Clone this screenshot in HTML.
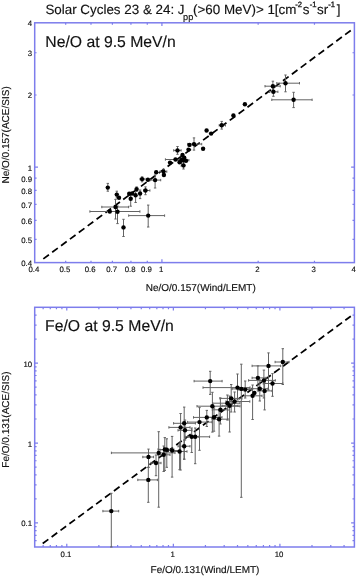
<!DOCTYPE html>
<html><head><meta charset="utf-8"><style>
html,body{margin:0;padding:0;background:#fff;width:357px;height:576px;overflow:hidden}
svg{display:block;will-change:transform}
text{font-family:"Liberation Sans",sans-serif;fill:#111;stroke:#111;stroke-width:0.15px;text-rendering:geometricPrecision}
</style></head><body>
<svg width="357" height="576" viewBox="0 0 357 576">
<path d="M161.92 262.60v-3.3M161.92 22.80v3.3M34.70 167.17h3.3M354.40 167.17h-3.3M65.68 262.60v-1.9M65.68 22.80v1.9M34.70 239.36h1.9M354.40 239.36h-1.9M91.00 262.60v-1.9M91.00 22.80v1.9M34.70 220.37h1.9M354.40 220.37h-1.9M112.40 262.60v-1.9M112.40 22.80v1.9M34.70 204.32h1.9M354.40 204.32h-1.9M130.94 262.60v-1.9M130.94 22.80v1.9M34.70 190.41h1.9M354.40 190.41h-1.9M147.29 262.60v-1.9M147.29 22.80v1.9M34.70 178.15h1.9M354.40 178.15h-1.9M258.16 262.60v-1.9M258.16 22.80v1.9M34.70 94.99h1.9M354.40 94.99h-1.9M314.46 262.60v-1.9M314.46 22.80v1.9M34.70 52.76h1.9M354.40 52.76h-1.9" stroke="#7d7dec" stroke-width="1.2" fill="none"/>
<rect x="34.7" y="22.8" width="319.70" height="239.80" stroke="#7d7dec" stroke-width="1.5" fill="none"/>
<text x="32.10" y="266.10" text-anchor="end" font-size="7.8">0.4</text>
<text x="33.90" y="272.20" text-anchor="middle" font-size="7.8">0.4</text>
<text x="32.10" y="242.86" text-anchor="end" font-size="7.8">0.5</text>
<text x="64.88" y="272.20" text-anchor="middle" font-size="7.8">0.5</text>
<text x="32.10" y="223.87" text-anchor="end" font-size="7.8">0.6</text>
<text x="90.20" y="272.20" text-anchor="middle" font-size="7.8">0.6</text>
<text x="32.10" y="207.82" text-anchor="end" font-size="7.8">0.7</text>
<text x="111.60" y="272.20" text-anchor="middle" font-size="7.8">0.7</text>
<text x="32.10" y="193.91" text-anchor="end" font-size="7.8">0.8</text>
<text x="130.14" y="272.20" text-anchor="middle" font-size="7.8">0.8</text>
<text x="32.10" y="181.65" text-anchor="end" font-size="7.8">0.9</text>
<text x="146.49" y="272.20" text-anchor="middle" font-size="7.8">0.9</text>
<text x="32.10" y="170.67" text-anchor="end" font-size="7.8">1</text>
<text x="161.12" y="272.20" text-anchor="middle" font-size="7.8">1</text>
<text x="32.10" y="98.49" text-anchor="end" font-size="7.8">2</text>
<text x="257.36" y="272.20" text-anchor="middle" font-size="7.8">2</text>
<text x="32.10" y="56.26" text-anchor="end" font-size="7.8">3</text>
<text x="313.66" y="272.20" text-anchor="middle" font-size="7.8">3</text>
<text x="32.10" y="26.30" text-anchor="end" font-size="7.8">4</text>
<text x="353.60" y="272.20" text-anchor="middle" font-size="7.8">4</text>
<path d="M66.78 547.00v-3.3M66.78 307.30v3.3M34.70 522.95h3.3M354.40 522.95h-3.3M173.35 547.00v-3.3M173.35 307.30v3.3M34.70 443.05h3.3M354.40 443.05h-3.3M279.91 547.00v-3.3M279.91 307.30v3.3M34.70 363.15h3.3M354.40 363.15h-3.3M43.14 547.00v-1.9M43.14 307.30v1.9M34.70 540.67h1.9M354.40 540.67h-1.9M50.27 547.00v-1.9M50.27 307.30v1.9M34.70 535.32h1.9M354.40 535.32h-1.9M56.45 547.00v-1.9M56.45 307.30v1.9M34.70 530.69h1.9M354.40 530.69h-1.9M61.90 547.00v-1.9M61.90 307.30v1.9M34.70 526.60h1.9M354.40 526.60h-1.9M98.86 547.00v-1.9M98.86 307.30v1.9M34.70 498.90h1.9M354.40 498.90h-1.9M117.62 547.00v-1.9M117.62 307.30v1.9M34.70 484.83h1.9M354.40 484.83h-1.9M130.94 547.00v-1.9M130.94 307.30v1.9M34.70 474.84h1.9M354.40 474.84h-1.9M141.27 547.00v-1.9M141.27 307.30v1.9M34.70 467.10h1.9M354.40 467.10h-1.9M149.70 547.00v-1.9M149.70 307.30v1.9M34.70 460.77h1.9M354.40 460.77h-1.9M156.84 547.00v-1.9M156.84 307.30v1.9M34.70 455.42h1.9M354.40 455.42h-1.9M163.02 547.00v-1.9M163.02 307.30v1.9M34.70 450.79h1.9M354.40 450.79h-1.9M168.47 547.00v-1.9M168.47 307.30v1.9M34.70 446.70h1.9M354.40 446.70h-1.9M205.43 547.00v-1.9M205.43 307.30v1.9M34.70 419.00h1.9M354.40 419.00h-1.9M224.19 547.00v-1.9M224.19 307.30v1.9M34.70 404.93h1.9M354.40 404.93h-1.9M237.51 547.00v-1.9M237.51 307.30v1.9M34.70 394.94h1.9M354.40 394.94h-1.9M247.83 547.00v-1.9M247.83 307.30v1.9M34.70 387.20h1.9M354.40 387.20h-1.9M256.27 547.00v-1.9M256.27 307.30v1.9M34.70 380.87h1.9M354.40 380.87h-1.9M263.41 547.00v-1.9M263.41 307.30v1.9M34.70 375.52h1.9M354.40 375.52h-1.9M269.59 547.00v-1.9M269.59 307.30v1.9M34.70 370.89h1.9M354.40 370.89h-1.9M275.04 547.00v-1.9M275.04 307.30v1.9M34.70 366.80h1.9M354.40 366.80h-1.9M311.99 547.00v-1.9M311.99 307.30v1.9M34.70 339.10h1.9M354.40 339.10h-1.9M330.76 547.00v-1.9M330.76 307.30v1.9M34.70 325.03h1.9M354.40 325.03h-1.9M344.07 547.00v-1.9M344.07 307.30v1.9M34.70 315.04h1.9M354.40 315.04h-1.9" stroke="#7d7dec" stroke-width="1.2" fill="none"/>
<rect x="34.7" y="307.3" width="319.70" height="239.70" stroke="#7d7dec" stroke-width="1.5" fill="none"/>
<text x="32.10" y="526.45" text-anchor="end" font-size="7.8">0.1</text>
<text x="65.98" y="556.60" text-anchor="middle" font-size="7.8">0.1</text>
<text x="32.10" y="446.55" text-anchor="end" font-size="7.8">1</text>
<text x="172.55" y="556.60" text-anchor="middle" font-size="7.8">1</text>
<text x="32.10" y="366.65" text-anchor="end" font-size="7.8">10</text>
<text x="279.11" y="556.60" text-anchor="middle" font-size="7.8">10</text>
<path d="M43.3 258.9L350.8 30.4" stroke="#000" stroke-width="1.75" stroke-dasharray="7 4.06" fill="none"/>
<path d="M42.7 543.5L350.8 316.2" stroke="#000" stroke-width="1.75" stroke-dasharray="7 4.06" fill="none"/>
<text y="14" font-size="13.4"><tspan x="45.4">Solar Cycles 23 &amp; 24: J</tspan><tspan x="183.1" y="19.9" font-size="9.2">pp</tspan><tspan x="193.0" y="14">(&gt;60 MeV)&gt; 1[cm</tspan><tspan x="295.3" y="7.4" font-size="7.6" stroke="#222" stroke-width="0.35">-2</tspan><tspan x="302.7" y="14">s</tspan><tspan x="309.7" y="7.4" font-size="7.6" stroke="#222" stroke-width="0.35">-1</tspan><tspan x="317.0" y="14">sr</tspan><tspan x="328.2" y="7.4" font-size="7.6" stroke="#222" stroke-width="0.35">-1</tspan><tspan x="336.7" y="14">]</tspan></text>
<text x="45.3" y="46.6" font-size="15.75" stroke="#111" stroke-width="0.2">Ne/O at 9.5 MeV/n</text>
<text x="45.1" y="331.4" font-size="15.75" stroke="#111" stroke-width="0.2">Fe/O at 9.5 MeV/n</text>
<text x="200.7" y="291.4" text-anchor="middle" font-size="10">Ne/O/0.157(Wind/LEMT)</text>
<text x="205" y="572.6" text-anchor="middle" font-size="10">Fe/O/0.131(Wind/LEMT)</text>
<text transform="translate(9,134.9) rotate(-90)" text-anchor="middle" font-size="10">Ne/O/0.157(ACE/SIS)</text>
<text transform="translate(9.3,419.6) rotate(-90)" text-anchor="middle" font-size="10">Fe/O/0.131(ACE/SIS)</text>
<path d="M276.8 83.2H299.5M276.8 82.0v2.4M299.5 82.0v2.4M285.5 75.0V91.8M284.3 75.0h2.4M284.3 91.8h2.4M265.0 86.2H280.2M265.0 85.0v2.4M280.2 85.0v2.4M272.9 81.2V90.0M271.7 81.2h2.4M271.7 90.0h2.4M269.5 91.8H277.9M269.5 90.6v2.4M277.9 90.6v2.4M273.4 88.0V96.3M272.2 88.0h2.4M272.2 96.3h2.4M271.8 99.8H312.1M271.8 98.6v2.4M312.1 98.6v2.4M293.6 92.3V107.6M292.40000000000003 92.3h2.4M292.40000000000003 107.6h2.4M219.2 125.3H225.5M219.2 124.1v2.4M225.5 124.1v2.4M221.7 121.4V129.1M220.5 121.4h2.4M220.5 129.1h2.4M187.7 144.1H201.7M187.7 142.9v2.4M201.7 142.9v2.4M194.0 137.9V150.1M192.8 137.9h2.4M192.8 150.1h2.4M173.7 150.4H181.1M173.7 149.20000000000002v2.4M181.1 149.20000000000002v2.4M177.5 146.5V154.3M176.3 146.5h2.4M176.3 154.3h2.4M165.4 159.5H180.0M165.4 158.3v2.4M180.0 158.3v2.4M178.0 160.2H188.9M178.0 159.0v2.4M188.9 159.0v2.4M181.6 156.0V166.0M180.4 156.0h2.4M180.4 166.0h2.4M183.5 162.0V169.0M182.3 162.0h2.4M182.3 169.0h2.4M160.1 171.6H166.8M160.1 170.4v2.4M166.8 170.4v2.4M163.5 169.2V174.0M162.3 169.2h2.4M162.3 174.0h2.4M150.0 180.1H160.7M150.0 178.9v2.4M160.7 178.9v2.4M155.1 175.0V188.0M153.9 175.0h2.4M153.9 188.0h2.4M140.0 179.1H145.0M140.0 177.9v2.4M145.0 177.9v2.4M142.1 176.8V181.8M140.9 176.8h2.4M140.9 181.8h2.4M143.5 190.5H149.9M143.5 189.3v2.4M149.9 189.3v2.4M145.5 186.9V194.7M144.3 186.9h2.4M144.3 194.7h2.4M136.6 186.9V191.5M135.4 186.9h2.4M135.4 191.5h2.4M140.1 190.0V198.6M138.9 190.0h2.4M138.9 198.6h2.4M107.8 183.4V191.2M106.6 183.4h2.4M106.6 191.2h2.4M116.8 191.2V198.0M115.6 191.2h2.4M115.6 198.0h2.4M101.8 207.0H128.6M101.8 205.8v2.4M128.6 205.8v2.4M115.5 199.4V219.0M114.3 199.4h2.4M114.3 219.0h2.4M89.9 211.5H139.9M89.9 210.3v2.4M139.9 210.3v2.4M117.5 206.0V223.6M116.3 206.0h2.4M116.3 223.6h2.4M130.7 194.0V206.2M129.5 194.0h2.4M129.5 206.2h2.4M135.6 190.0V202.5M134.4 190.0h2.4M134.4 202.5h2.4M123.5 219.3V236.5M122.3 219.3h2.4M122.3 236.5h2.4M128.7 215.6H164.6M128.7 214.4v2.4M164.6 214.4v2.4M148.2 205.1V227.0M147.0 205.1h2.4M147.0 227.0h2.4" stroke="#636363" stroke-width="1" fill="none"/>
<g fill="#000"><circle cx="285.5" cy="83.2" r="2.2"/><circle cx="272.9" cy="86.2" r="2.2"/><circle cx="273.4" cy="91.8" r="2.2"/><circle cx="293.6" cy="99.8" r="2.2"/><circle cx="244.9" cy="104.2" r="2.2"/><circle cx="233.4" cy="115.5" r="2.2"/><circle cx="221.7" cy="125.3" r="2.2"/><circle cx="206.6" cy="130.5" r="2.2"/><circle cx="211.1" cy="133.6" r="2.2"/><circle cx="194.0" cy="144.1" r="2.2"/><circle cx="189.5" cy="144.9" r="2.2"/><circle cx="203.1" cy="148.7" r="2.2"/><circle cx="188.5" cy="149.6" r="2.2"/><circle cx="177.5" cy="150.4" r="2.2"/><circle cx="182.5" cy="155.0" r="2.2"/><circle cx="175.5" cy="159.5" r="2.2"/><circle cx="183.3" cy="160.2" r="2.2"/><circle cx="179.6" cy="162.2" r="2.2"/><circle cx="184.2" cy="157.6" r="2.2"/><circle cx="181.6" cy="160.0" r="2.2"/><circle cx="186.0" cy="160.8" r="2.2"/><circle cx="170.0" cy="162.6" r="2.2"/><circle cx="183.5" cy="165.4" r="2.2"/><circle cx="163.5" cy="171.6" r="2.2"/><circle cx="156.2" cy="172.3" r="2.2"/><circle cx="163.9" cy="175.0" r="2.2"/><circle cx="155.1" cy="180.1" r="2.2"/><circle cx="147.9" cy="179.8" r="2.2"/><circle cx="142.1" cy="179.1" r="2.2"/><circle cx="145.5" cy="190.5" r="2.2"/><circle cx="136.6" cy="189.1" r="2.2"/><circle cx="140.1" cy="193.5" r="2.2"/><circle cx="107.8" cy="187.6" r="2.2"/><circle cx="116.8" cy="194.6" r="2.2"/><circle cx="119.0" cy="197.7" r="2.2"/><circle cx="115.5" cy="207.0" r="2.2"/><circle cx="109.8" cy="211.5" r="2.2"/><circle cx="117.5" cy="211.7" r="2.2"/><circle cx="130.7" cy="198.7" r="2.2"/><circle cx="129.2" cy="193.7" r="2.2"/><circle cx="132.1" cy="193.5" r="2.2"/><circle cx="135.6" cy="195.3" r="2.2"/><circle cx="123.5" cy="227.4" r="2.2"/><circle cx="148.2" cy="215.6" r="2.2"/></g>
<path d="M275.1 362.0H289.1M275.1 360.8v2.4M289.1 360.8v2.4M282.8 348.7V384.5M281.6 348.7h2.4M281.6 384.5h2.4M252.1 365.9H280.7M252.1 364.7v2.4M280.7 364.7v2.4M268.5 352.9V390.0M267.3 352.9h2.4M267.3 390.0h2.4M252.1 377.9H266.0M252.1 376.7v2.4M266.0 376.7v2.4M257.9 365.9V390.0M256.7 365.9h2.4M256.7 390.0h2.4M248.6 380.4H275.3M248.6 379.2v2.4M275.3 379.2v2.4M263.9 370.1V398.0M262.7 370.1h2.4M262.7 398.0h2.4M263.2 383.5H282.8M263.2 382.3v2.4M282.8 382.3v2.4M272.5 373.6V396.3M271.3 373.6h2.4M271.3 396.3h2.4M252.0 388.7H268.0M252.0 387.5v2.4M268.0 387.5v2.4M259.8 380.0V401.0M258.6 380.0h2.4M258.6 401.0h2.4M258.0 390.9H272.0M258.0 389.7v2.4M272.0 389.7v2.4M264.6 382.0V409.9M263.40000000000003 382.0h2.4M263.40000000000003 409.9h2.4M245.0 395.8H262.0M245.0 394.6v2.4M262.0 394.6v2.4M252.6 385.0V419.5M251.4 385.0h2.4M251.4 419.5h2.4M194.1 381.1H222.1M194.1 379.90000000000003v2.4M222.1 379.90000000000003v2.4M210.2 371.3V394.4M209.0 371.3h2.4M209.0 394.4h2.4M203.0 387.6H250.0M203.0 386.40000000000003v2.4M250.0 386.40000000000003v2.4M237.5 374.0V400.0M236.3 374.0h2.4M236.3 400.0h2.4M232.0 388.9H250.0M232.0 387.7v2.4M250.0 387.7v2.4M241.3 364.2V497.3M240.10000000000002 364.2h2.4M240.10000000000002 497.3h2.4M238.0 389.6H252.0M238.0 388.40000000000003v2.4M252.0 388.40000000000003v2.4M245.2 381.0V398.0M244.0 381.0h2.4M244.0 398.0h2.4M220.0 398.4H242.0M220.0 397.2v2.4M242.0 397.2v2.4M231.2 384.5V412.0M230.0 384.5h2.4M230.0 412.0h2.4M226.0 401.5H249.8M226.0 400.3v2.4M249.8 400.3v2.4M234.6 392.0V412.0M233.4 392.0h2.4M233.4 412.0h2.4M212.7 403.2H240.0M212.7 402.0v2.4M240.0 402.0v2.4M227.4 395.0V420.0M226.20000000000002 395.0h2.4M226.20000000000002 420.0h2.4M222.0 405.8H238.0M222.0 404.6v2.4M238.0 404.6v2.4M229.6 396.0V432.0M228.4 396.0h2.4M228.4 432.0h2.4M197.0 406.2H240.0M197.0 405.0v2.4M240.0 405.0v2.4M212.4 392.3V432.1M211.20000000000002 392.3h2.4M211.20000000000002 432.1h2.4M212.3 409.8H228.0M212.3 408.6v2.4M228.0 408.6v2.4M220.4 398.0V424.0M219.20000000000002 398.0h2.4M219.20000000000002 424.0h2.4M193.5 417.4H220.0M193.5 416.2v2.4M220.0 416.2v2.4M206.8 410.4V426.5M205.60000000000002 410.4h2.4M205.60000000000002 426.5h2.4M206.0 417.3H222.0M206.0 416.1v2.4M222.0 416.1v2.4M214.0 408.0V431.2M212.8 408.0h2.4M212.8 431.2h2.4M212.0 419.2H228.0M212.0 418.0v2.4M228.0 418.0v2.4M219.1 410.0V436.1M217.9 410.0h2.4M217.9 436.1h2.4M187.6 422.1H212.0M187.6 420.90000000000003v2.4M212.0 420.90000000000003v2.4M199.5 407.6V450.3M198.3 407.6h2.4M198.3 450.3h2.4M173.6 423.3H195.4M173.6 422.1v2.4M195.4 422.1v2.4M184.2 407.1V459.2M183.0 407.1h2.4M183.0 459.2h2.4M168.9 427.4H190.0M168.9 426.2v2.4M190.0 426.2v2.4M180.6 413.5V470.0M179.4 413.5h2.4M179.4 470.0h2.4M178.0 430.3H192.0M178.0 429.1v2.4M192.0 429.1v2.4M185.0 420.0V440.0M183.8 420.0h2.4M183.8 440.0h2.4M185.0 436.8H199.0M185.0 435.6v2.4M199.0 435.6v2.4M191.7 428.0V452.5M190.5 428.0h2.4M190.5 452.5h2.4M188.0 436.8H209.6M188.0 435.6v2.4M209.6 435.6v2.4M195.2 428.0V463.7M194.0 428.0h2.4M194.0 463.7h2.4M178.0 446.2H190.0M178.0 445.0v2.4M190.0 445.0v2.4M184.2 440.0V459.2M183.0 440.0h2.4M183.0 459.2h2.4M158.0 449.5H172.0M158.0 448.3v2.4M172.0 448.3v2.4M164.8 437.6V470.4M163.60000000000002 437.6h2.4M163.60000000000002 470.4h2.4M160.0 449.8H174.0M160.0 448.6v2.4M174.0 448.6v2.4M166.8 438.8V467.3M165.60000000000002 438.8h2.4M165.60000000000002 467.3h2.4M165.0 450.5H180.0M165.0 449.3v2.4M180.0 449.3v2.4M172.1 436.4V477.1M170.9 436.4h2.4M170.9 477.1h2.4M172.0 451.5H187.0M172.0 450.3v2.4M187.0 450.3v2.4M179.6 443.0V469.7M178.4 443.0h2.4M178.4 469.7h2.4M111.4 452.9H175.0M111.4 451.7v2.4M175.0 451.7v2.4M158.7 431.7V507.2M157.5 431.7h2.4M157.5 507.2h2.4M158.0 454.8H170.0M158.0 453.6v2.4M170.0 453.6v2.4M163.7 446.0V471.5M162.5 446.0h2.4M162.5 471.5h2.4M151.0 463.0H161.0M151.0 461.8v2.4M161.0 461.8v2.4M156.0 455.0V475.7M154.8 455.0h2.4M154.8 475.7h2.4M142.8 457.0H153.6M142.8 455.8v2.4M153.6 455.8v2.4M148.5 449.1V467.3M147.3 449.1h2.4M147.3 467.3h2.4M137.8 479.9H157.4M137.8 478.7v2.4M157.4 478.7v2.4M148.3 467.3V502.3M147.10000000000002 467.3h2.4M147.10000000000002 502.3h2.4M102.9 511.1H118.7M102.9 509.90000000000003v2.4M118.7 509.90000000000003v2.4M111.3 493.3V547.0M110.1 493.3h2.4M110.1 547.0h2.4" stroke="#636363" stroke-width="1" fill="none"/>
<g fill="#000"><circle cx="282.8" cy="362.0" r="2.2"/><circle cx="268.5" cy="365.9" r="2.2"/><circle cx="257.9" cy="377.9" r="2.2"/><circle cx="263.9" cy="380.4" r="2.2"/><circle cx="272.5" cy="383.5" r="2.2"/><circle cx="259.8" cy="388.7" r="2.2"/><circle cx="264.6" cy="390.9" r="2.2"/><circle cx="252.6" cy="395.8" r="2.2"/><circle cx="254.4" cy="392.9" r="2.2"/><circle cx="210.2" cy="381.1" r="2.2"/><circle cx="237.5" cy="387.6" r="2.2"/><circle cx="241.3" cy="388.9" r="2.2"/><circle cx="245.2" cy="389.6" r="2.2"/><circle cx="231.2" cy="398.4" r="2.2"/><circle cx="234.6" cy="401.5" r="2.2"/><circle cx="227.4" cy="403.2" r="2.2"/><circle cx="229.6" cy="405.8" r="2.2"/><circle cx="212.4" cy="406.2" r="2.2"/><circle cx="220.4" cy="409.8" r="2.2"/><circle cx="206.8" cy="417.4" r="2.2"/><circle cx="214.0" cy="417.3" r="2.2"/><circle cx="219.1" cy="419.2" r="2.2"/><circle cx="199.5" cy="422.1" r="2.2"/><circle cx="184.2" cy="423.3" r="2.2"/><circle cx="180.6" cy="427.4" r="2.2"/><circle cx="185.0" cy="430.3" r="2.2"/><circle cx="191.7" cy="436.8" r="2.2"/><circle cx="195.2" cy="436.8" r="2.2"/><circle cx="184.2" cy="446.2" r="2.2"/><circle cx="164.8" cy="449.5" r="2.2"/><circle cx="166.8" cy="449.8" r="2.2"/><circle cx="172.1" cy="450.5" r="2.2"/><circle cx="179.6" cy="451.5" r="2.2"/><circle cx="158.7" cy="452.9" r="2.2"/><circle cx="163.7" cy="454.8" r="2.2"/><circle cx="156.0" cy="463.0" r="2.2"/><circle cx="148.5" cy="457.0" r="2.2"/><circle cx="148.3" cy="479.9" r="2.2"/><circle cx="111.3" cy="511.1" r="2.2"/></g>
</svg>
</body></html>
